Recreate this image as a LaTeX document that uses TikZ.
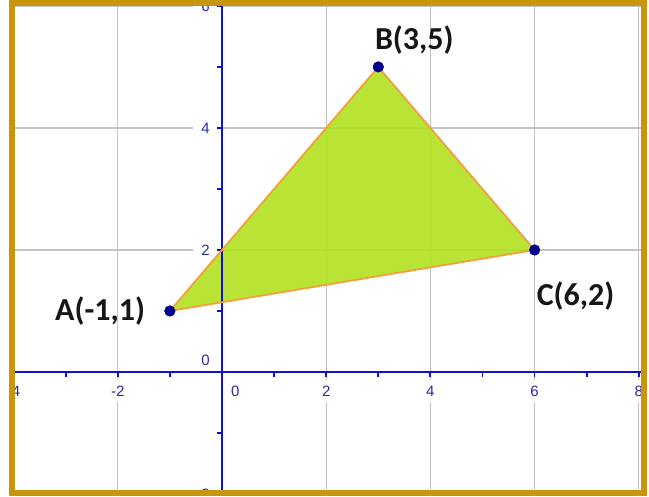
\documentclass[tikz,border=0pt]{standalone}
\usepackage{fontspec}
\setmainfont{Carlito}
\newfontfamily\tickfont{Liberation Sans}
\usetikzlibrary{positioning}
\definecolor{framegold}{HTML}{C8960C}
\definecolor{gridgray}{HTML}{C4C4C4}
\definecolor{axisblue}{HTML}{1010D0}
\definecolor{tickblue}{HTML}{2A2AA8}
\definecolor{trifill}{HTML}{B3E11F}
\definecolor{triedge}{HTML}{F2A03C}
\definecolor{dotblue}{HTML}{00008C}
\definecolor{labelblack}{HTML}{161616}

\begin{document}
\begin{tikzpicture}[x=52.1pt, y=61pt,
    gridline/.style={draw=gridgray, line width=1.1pt},
    axisline/.style={draw=axisblue, line width=2.6pt},
    tickmark/.style={draw=axisblue, line width=1.8pt},
    ticklabel/.style={font=\tickfont\fontsize{15}{15}\selectfont, text=tickblue,
                      fill=white, inner xsep=4pt, inner ysep=6pt},
    dot/.style={circle, fill=dotblue, inner sep=0pt, minimum size=11pt},
    ptlabel/.style={font=\bfseries\fontsize{32}{32}\selectfont, text=labelblack, inner sep=0pt}]
  \useasboundingbox (-4.261,-2.049) rectangle (8.196,6.098);
  \begin{scope}
    \clip (-4.031,-1.984) rectangle (8.100,6.049);
    % grid
    \foreach \gx in {-4,-2,2,4,6,8}
      \draw[gridline] (\gx,-2.1) -- (\gx,6.2);
    \foreach \gy in {-2,2,4,6}
      \draw[gridline] (-4.3,\gy) -- (8.3,\gy);
    % tick labels
    \foreach \gx in {-4,-2,2,4,6,8}
      \node[ticklabel, yshift=-19pt] (xl\gx) at (\gx,0) {\gx};
    \node[ticklabel, anchor=west, xshift=5pt, yshift=-19pt] (xl0) at (0,0) {0};
    \foreach \gy in {-2,2,4,6}
      \node[ticklabel, anchor=east, inner xsep=8pt, xshift=-4pt] (yl\gy) at (0,\gy) {\gy};
    \node[ticklabel, anchor=east, inner xsep=8pt, xshift=-4pt, yshift=12pt] (yl0) at (0,0) {0};
    % triangle
    \node[dot] (A) at (-1,1) {};
    \node[dot] (B) at (3,5) {};
    \node[dot] (C) at (6,2) {};
    \fill[trifill, fill opacity=0.9] (A.center) -- (B.center) -- (C.center) -- cycle;
    % axes
    \draw[axisline] (-4.3,0) -- (8.3,0);
    \draw[axisline] (0,-2.1) -- (0,6.2);
    \foreach \t in {-4,...,8}
      \draw[tickmark] (\t,0) -- ++(0,-5pt);
    \foreach \t in {-2,...,6}
      \draw[tickmark] (0,\t) -- ++(-5pt,0);
    \draw[triedge, line width=1.8pt, line join=round] (A.center) -- (B.center) -- (C.center) -- cycle;
    \node[dot] at (A) {};
    \node[dot] at (B) {};
    \node[dot] at (C) {};
  \end{scope}
  % point labels
  \node[ptlabel, left=19pt of A] (Alabel) {A(-1,1)};
  \node[ptlabel, above=7pt of B, xshift=36pt] (Blabel) {B(3,5)};
  \node[ptlabel, below=26pt of C, xshift=41pt] (Clabel) {C(6,2)};
  % frame
  \draw[framegold, line width=6.5pt] (-4.031,-1.984) rectangle (8.100,6.049);
\end{tikzpicture}
\end{document}
